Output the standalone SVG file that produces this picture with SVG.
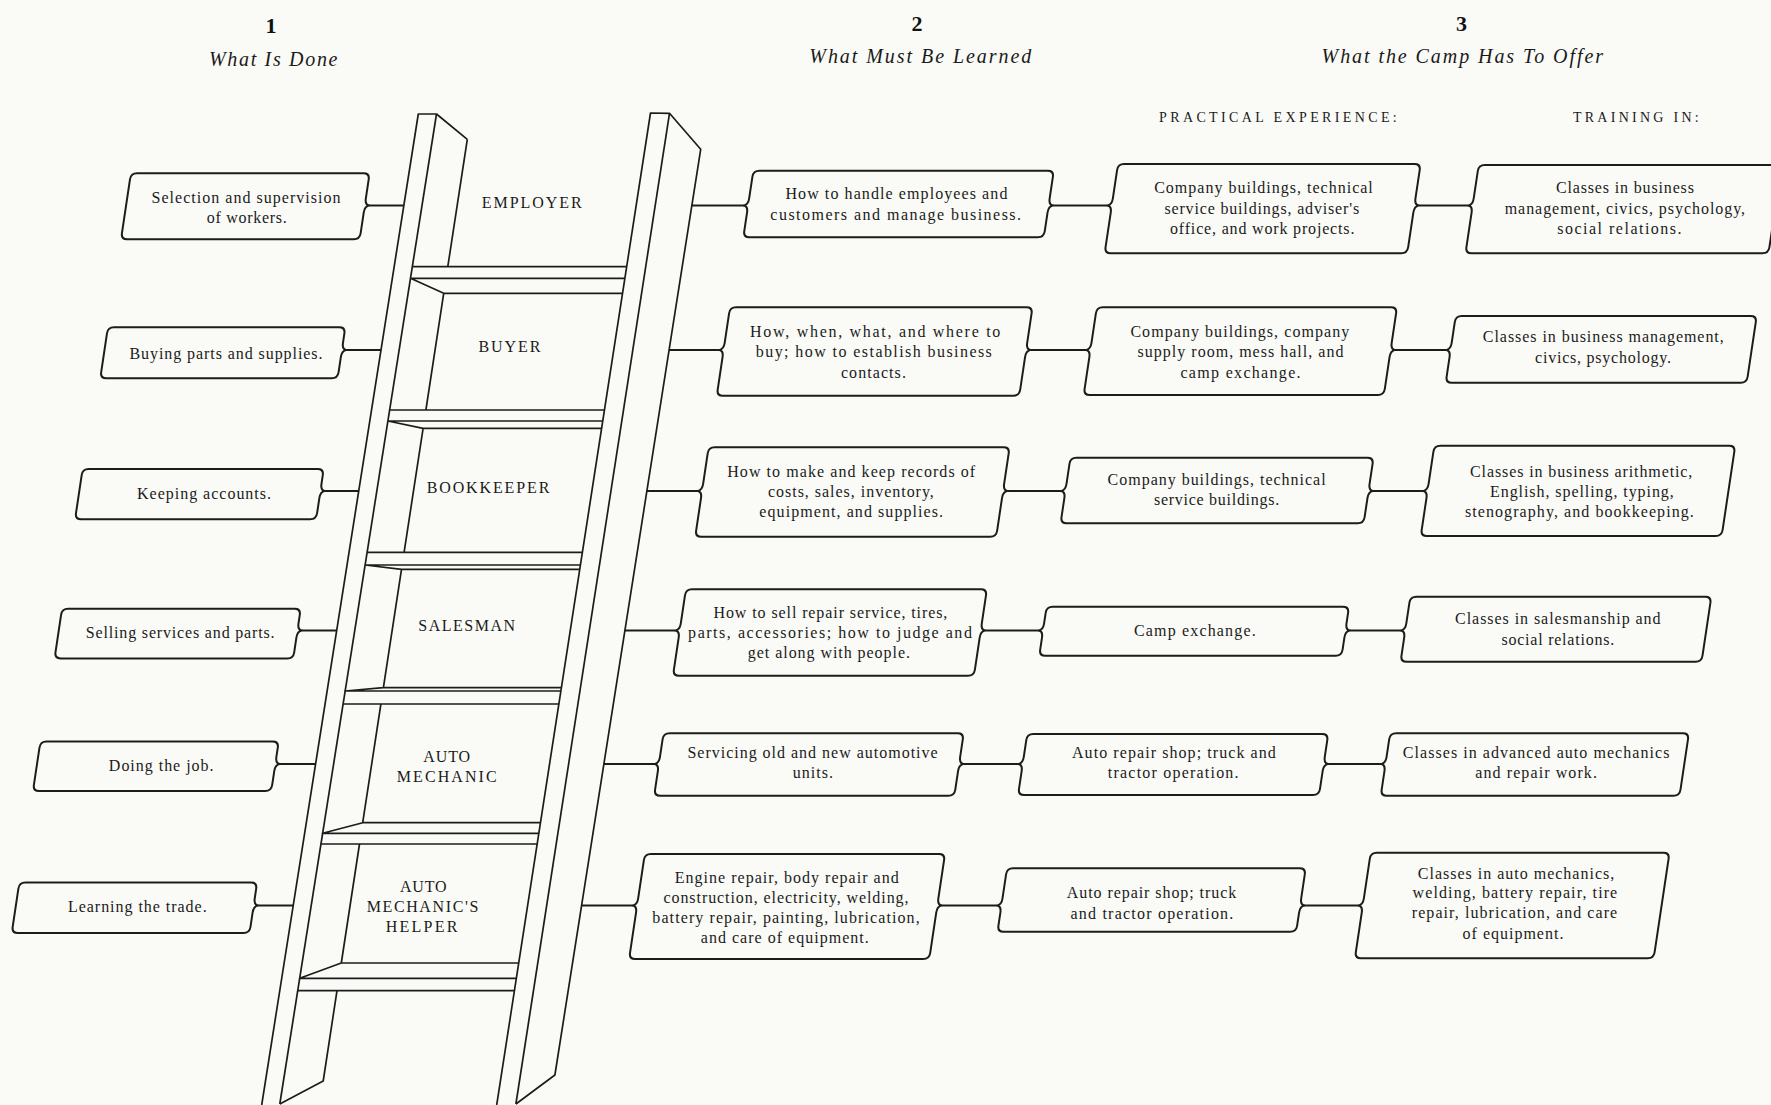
<svg xmlns="http://www.w3.org/2000/svg" width="1771" height="1105" viewBox="0 0 1771 1105">
<style>
.bx{fill:none;stroke:#1c1c1c;stroke-width:2;stroke-linejoin:round}
.ln{fill:none;stroke:#1c1c1c;stroke-width:1.7;stroke-linejoin:round}
.cn{fill:none;stroke:#1c1c1c;stroke-width:2}
.t{font-family:"Liberation Serif",serif;font-size:16px;fill:#1a1a1a;text-anchor:middle}
.lb{font-family:"Liberation Serif",serif;font-size:16px;fill:#1a1a1a;text-anchor:middle}
.num{font-family:"Liberation Serif",serif;font-size:22px;font-weight:bold;fill:#111;text-anchor:middle}
.hi{font-family:"Liberation Serif",serif;font-size:20px;font-style:italic;fill:#1a1a1a;text-anchor:middle}
.sub{font-family:"Liberation Serif",serif;font-size:14px;fill:#1a1a1a;text-anchor:middle}
</style>
<rect width="1771" height="1105" fill="#fafaf7"/>

<g id="headers">
<text class="num" x="271" y="33">1</text>
<text class="hi" x="273.2" y="66" textLength="128.6" lengthAdjust="spacing">What Is Done</text>
<text class="num" x="917" y="31">2</text>
<text class="hi" x="920.3" y="63" textLength="222" lengthAdjust="spacing">What Must Be Learned</text>
<text class="num" x="1461.6" y="31">3</text>
<text class="hi" x="1462.3" y="63" textLength="281.4" lengthAdjust="spacing">What the Camp Has To Offer</text>
<text class="sub" x="1277.9" y="121.5" textLength="237.7" lengthAdjust="spacing">PRACTICAL EXPERIENCE:</text>
<text class="sub" x="1635.8" y="121.5" textLength="125.7" lengthAdjust="spacing">TRAINING IN:</text>
</g>

<g id="ladder">
<g id="rails">
<path class="ln" d="M261.7,1105 L418.3,114 L436.5,114 L467.3,139.3"/>
<path class="ln" d="M436.5,114 L279.8,1104"/>
<path class="ln" d="M467.3,139.3 L447.8,266.7"/>
<path class="ln" d="M337,990.7 L323.2,1081 L279.8,1104"/>
<path class="ln" d="M496.7,1105 L650.5,113 L669.5,113.3 L700.7,149.3 L554.9,1075 L515.9,1104"/>
<path class="ln" d="M669.5,113.3 L515.9,1104"/>
</g>
<g id="rung-employer">
<path class="ln" d="M412.3,266.7 H626.7"/>
<text class="lb" x="531.7" y="207.5" textLength="100" lengthAdjust="spacing">EMPLOYER</text>
</g>
<g id="rung-buyer">
<path class="ln" d="M410.5,278.3 H624.9 M410.5,278.3 L443.7,293.3 H622.6 M443.7,293.3 L425.9,410 M389.6,410 H604.5"/>
<text class="lb" x="509.4" y="351.5" textLength="62" lengthAdjust="spacing">BUYER</text>
</g>
<g id="rung-bookkeeper">
<path class="ln" d="M387.9,421 H602.8 M387.9,421 L423.1,428.3 H601.6 M423.1,428.3 L404.1,552.3 M367.1,552.3 H582.4"/>
<text class="lb" x="488" y="492.5" textLength="122.7" lengthAdjust="spacing">BOOKKEEPER</text>
</g>
<g id="rung-salesman">
<path class="ln" d="M365.1,565 H580.4 M365.1,565 L401.5,569.3 H579.7 M401.5,569.3 L383.4,687.7 H561.4 M383.4,687.7 L345.2,691 H560.9"/>
<text class="lb" x="466.7" y="630.5" textLength="96.7" lengthAdjust="spacing">SALESMAN</text>
</g>
<g id="rung-auto-mechanic">
<path class="ln" d="M343.1,704 H558.9 M380.9,704 L362.7,822.7 H540.5 M362.7,822.7 L322.6,833.3 H538.9"/>
<text class="lb" x="446.7" y="761.5" textLength="46.7" lengthAdjust="spacing">AUTO</text>
<text class="lb" x="446.7" y="781.5" textLength="100" lengthAdjust="spacing">MECHANIC</text>
</g>
<g id="rung-helper">
<path class="ln" d="M320.9,844 H537.2 M359.5,844 L341.3,963 H518.8 M341.3,963 L299.7,978.3 H516.4"/>
<text class="lb" x="423.3" y="891.5" textLength="46.7" lengthAdjust="spacing">AUTO</text>
<text class="lb" x="422.5" y="912" textLength="111.7" lengthAdjust="spacing">MECHANIC'S</text>
<text class="lb" x="421.5" y="932" textLength="71.7" lengthAdjust="spacing">HELPER</text>
</g>
<g id="rung-bottom">
<path class="ln" d="M297.7,990.7 H514.5"/>
</g>
</g>

<g id="connectors">
<path class="cn" d="M368.8,205.5 H403.8 M691.9,205.5 H744.1 M1052.6,205.5 H1107.8 M1418.4,205.5 H1468.6"/>
<path class="cn" d="M345.9,350 H381 M669.1,350 H719.6 M1030.1,350 H1086.4 M1394.6,350 H1446.6"/>
<path class="cn" d="M324.4,491 H358.7 M646.9,491 H698.1 M1007.1,491 H1061.4 M1372.5,491 H1423.5"/>
<path class="cn" d="M301.4,630.5 H336.7 M624.9,630.5 H675.7 M984.7,630.5 H1039 M1349.4,630.5 H1401.2"/>
<path class="cn" d="M279.3,764 H315.6 M603.9,764 H654.9 M963.1,764 H1018.7 M1327.7,764 H1381.5"/>
<path class="cn" d="M257.7,905.5 H293.2 M581.6,905.5 H633.1 M941.3,905.5 H997.4 M1304.1,905.5 H1358.8"/>
</g>

<g id="n-r1c1">
<path class="bx" transform="translate(130.9,173.3) skewX(-8.5)" d="M6,0 H232.7 Q238.7,0 238.7,6 V25.2 Q238.7,31.2 242.7,32.2 Q238.7,33.2 238.7,39.2 V60 Q238.7,66 232.7,66 H6 Q0,66 0,60 V6 Q0,0 6,0 Z"/>
<text class="t" x="246" y="203" textLength="189" lengthAdjust="spacing">Selection and supervision</text>
<text class="t" x="246.7" y="223" textLength="80" lengthAdjust="spacing">of workers.</text>
</g>
<g id="n-r2c1">
<path class="bx" transform="translate(107.9,327.3) skewX(-8.5)" d="M6,0 H231.4 Q237.4,0 237.4,6 V15.7 Q237.4,21.7 241.4,22.7 Q237.4,23.7 237.4,29.7 V45 Q237.4,51 231.4,51 H6 Q0,51 0,45 V6 Q0,0 6,0 Z"/>
<text class="t" x="226" y="359" textLength="193" lengthAdjust="spacing">Buying parts and supplies.</text>
</g>
<g id="n-r3c1">
<path class="bx" transform="translate(82.6,469) skewX(-8.5)" d="M6,0 H235.1 Q241.1,0 241.1,6 V15 Q241.1,21 245.1,22 Q241.1,23 241.1,29 V44.3 Q241.1,50.3 235.1,50.3 H6 Q0,50.3 0,44.3 V6 Q0,0 6,0 Z"/>
<text class="t" x="204" y="499" textLength="134" lengthAdjust="spacing">Keeping accounts.</text>
</g>
<g id="n-r4c1">
<path class="bx" transform="translate(62,608.7) skewX(-8.5)" d="M6,0 H232.7 Q238.7,0 238.7,6 V14.8 Q238.7,20.8 242.7,21.8 Q238.7,22.8 238.7,28.8 V43.7 Q238.7,49.7 232.7,49.7 H6 Q0,49.7 0,43.7 V6 Q0,0 6,0 Z"/>
<text class="t" x="180.2" y="637.5" textLength="188.7" lengthAdjust="spacing">Selling services and parts.</text>
</g>
<g id="n-r5c1">
<path class="bx" transform="translate(40.4,741.4) skewX(-8.5)" d="M6,0 H232.3 Q238.3,0 238.3,6 V15.6 Q238.3,21.6 242.3,22.6 Q238.3,23.6 238.3,29.6 V43.7 Q238.3,49.7 232.3,49.7 H6 Q0,49.7 0,43.7 V6 Q0,0 6,0 Z"/>
<text class="t" x="161.2" y="771" textLength="104.7" lengthAdjust="spacing">Doing the job.</text>
</g>
<g id="n-r6c1">
<path class="bx" transform="translate(19.3,882.6) skewX(-8.5)" d="M6,0 H231.8 Q237.8,0 237.8,6 V15.9 Q237.8,21.9 241.8,22.9 Q237.8,23.9 237.8,29.9 V44.4 Q237.8,50.4 231.8,50.4 H6 Q0,50.4 0,44.4 V6 Q0,0 6,0 Z"/>
<text class="t" x="137.3" y="912" textLength="138.7" lengthAdjust="spacing">Learning the trade.</text>
</g>

<g id="n-r1c2">
<path class="bx" transform="translate(753.3,170.7) skewX(-8.5)" d="M6,0 H294.5 Q300.5,0 300.5,6 V27.8 Q300.5,33.8 304.5,34.8 Q300.5,35.8 300.5,41.8 V60.6 Q300.5,66.6 294.5,66.6 H6 Q0,66.6 0,60.6 V41.8 Q0,35.8 -4,34.8 Q0,33.8 0,27.8 V6 Q0,0 6,0 Z"/>
<text class="t" x="896.4" y="198.5" textLength="222" lengthAdjust="spacing">How to handle employees and</text>
<text class="t" x="895.7" y="220" textLength="250.7" lengthAdjust="spacing">customers and manage business.</text>
</g>
<g id="n-r2c2">
<path class="bx" transform="translate(730,307.3) skewX(-8.5)" d="M6,0 H296.5 Q302.5,0 302.5,6 V35.7 Q302.5,41.7 306.5,42.7 Q302.5,43.7 302.5,49.7 V82.4 Q302.5,88.4 296.5,88.4 H6 Q0,88.4 0,82.4 V49.7 Q0,43.7 -4,42.7 Q0,41.7 0,35.7 V6 Q0,0 6,0 Z"/>
<text class="t" x="875.2" y="336.5" textLength="250.2" lengthAdjust="spacing">How, when, what, and where to</text>
<text class="t" x="873.8" y="357" textLength="236" lengthAdjust="spacing">buy; how to establish business</text>
<text class="t" x="873.4" y="377.5" textLength="65" lengthAdjust="spacing">contacts.</text>
</g>
<g id="n-r3c2">
<path class="bx" transform="translate(708.6,447.3) skewX(-8.5)" d="M6,0 H295 Q301,0 301,6 V36.7 Q301,42.7 305,43.7 Q301,44.7 301,50.7 V83.4 Q301,89.4 295,89.4 H6 Q0,89.4 0,83.4 V50.7 Q0,44.7 -4,43.7 Q0,42.7 0,36.7 V6 Q0,0 6,0 Z"/>
<text class="t" x="851.2" y="477" textLength="248" lengthAdjust="spacing">How to make and keep records of</text>
<text class="t" x="850.9" y="497" textLength="165.9" lengthAdjust="spacing">costs, sales, inventory,</text>
<text class="t" x="851.2" y="517" textLength="183.7" lengthAdjust="spacing">equipment, and supplies.</text>
</g>
<g id="n-r4c2">
<path class="bx" transform="translate(685.9,589.3) skewX(-8.5)" d="M6,0 H295 Q301,0 301,6 V34.2 Q301,40.2 305,41.2 Q301,42.2 301,48.2 V80.4 Q301,86.4 295,86.4 H6 Q0,86.4 0,80.4 V48.2 Q0,42.2 -4,41.2 Q0,40.2 0,34.2 V6 Q0,0 6,0 Z"/>
<text class="t" x="830.4" y="617.5" textLength="233.8" lengthAdjust="spacing">How to sell repair service, tires,</text>
<text class="t" x="830" y="637.5" textLength="283.8" lengthAdjust="spacing">parts, accessories; how to judge and</text>
<text class="t" x="828.9" y="658" textLength="162.1" lengthAdjust="spacing">get along with people.</text>
</g>
<g id="n-r5c2">
<path class="bx" transform="translate(663.5,733.3) skewX(-8.5)" d="M6,0 H294.2 Q300.2,0 300.2,6 V23.7 Q300.2,29.7 304.2,30.7 Q300.2,31.7 300.2,37.7 V56.4 Q300.2,62.4 294.2,62.4 H6 Q0,62.4 0,56.4 V37.7 Q0,31.7 -4,30.7 Q0,29.7 0,23.7 V6 Q0,0 6,0 Z"/>
<text class="t" x="812.5" y="758" textLength="250.2" lengthAdjust="spacing">Servicing old and new automotive</text>
<text class="t" x="812.8" y="778" textLength="40.3" lengthAdjust="spacing">units.</text>
</g>
<g id="n-r6c2">
<path class="bx" transform="translate(644.8,854) skewX(-8.5)" d="M6,0 H294.2 Q300.2,0 300.2,6 V44.5 Q300.2,50.5 304.2,51.5 Q300.2,52.5 300.2,58.5 V99 Q300.2,105 294.2,105 H6 Q0,105 0,99 V58.5 Q0,52.5 -4,51.5 Q0,50.5 0,44.5 V6 Q0,0 6,0 Z"/>
<text class="t" x="786.7" y="883" textLength="224" lengthAdjust="spacing">Engine repair, body repair and</text>
<text class="t" x="786" y="903" textLength="245" lengthAdjust="spacing">construction, electricity, welding,</text>
<text class="t" x="786" y="923" textLength="267.4" lengthAdjust="spacing">battery repair, painting, lubrication,</text>
<text class="t" x="784.8" y="943" textLength="168" lengthAdjust="spacing">and care of equipment.</text>
</g>

<g id="n-r1c3">
<path class="bx" transform="translate(1118,164) skewX(-8.5)" d="M6,0 H296.6 Q302.6,0 302.6,6 V34.5 Q302.6,40.5 306.6,41.5 Q302.6,42.5 302.6,48.5 V83.3 Q302.6,89.3 296.6,89.3 H6 Q0,89.3 0,83.3 V48.5 Q0,42.5 -4,41.5 Q0,40.5 0,34.5 V6 Q0,0 6,0 Z"/>
<text class="t" x="1263.5" y="192.5" textLength="218.6" lengthAdjust="spacing">Company buildings, technical</text>
<text class="t" x="1261.8" y="213.5" textLength="194.7" lengthAdjust="spacing">service buildings, adviser's</text>
<text class="t" x="1262.2" y="233.5" textLength="184.4" lengthAdjust="spacing">office, and work projects.</text>
</g>
<g id="n-r2c3">
<path class="bx" transform="translate(1096.8,307.3) skewX(-8.5)" d="M6,0 H294.2 Q300.2,0 300.2,6 V35.7 Q300.2,41.7 304.2,42.7 Q300.2,43.7 300.2,49.7 V81.7 Q300.2,87.7 294.2,87.7 H6 Q0,87.7 0,81.7 V49.7 Q0,43.7 -4,42.7 Q0,41.7 0,35.7 V6 Q0,0 6,0 Z"/>
<text class="t" x="1239.8" y="336.5" textLength="218.8" lengthAdjust="spacing">Company buildings, company</text>
<text class="t" x="1240.5" y="357" textLength="205.9" lengthAdjust="spacing">supply room, mess hall, and</text>
<text class="t" x="1240.5" y="377.5" textLength="120.1" lengthAdjust="spacing">camp exchange.</text>
</g>
<g id="n-r3c3">
<path class="bx" transform="translate(1070.4,457.7) skewX(-8.5)" d="M6,0 H297.1 Q303.1,0 303.1,6 V26.3 Q303.1,32.3 307.1,33.3 Q303.1,34.3 303.1,40.3 V59.6 Q303.1,65.6 297.1,65.6 H6 Q0,65.6 0,59.6 V40.3 Q0,34.3 -4,33.3 Q0,32.3 0,26.3 V6 Q0,0 6,0 Z"/>
<text class="t" x="1216.6" y="485" textLength="218" lengthAdjust="spacing">Company buildings, technical</text>
<text class="t" x="1216.6" y="505" textLength="125.1" lengthAdjust="spacing">service buildings.</text>
</g>
<g id="n-r4c3">
<path class="bx" transform="translate(1046.6,606.7) skewX(-8.5)" d="M6,0 H296.4 Q302.4,0 302.4,6 V16.8 Q302.4,22.8 306.4,23.8 Q302.4,24.8 302.4,30.8 V43 Q302.4,49 296.4,49 H6 Q0,49 0,43 V30.8 Q0,24.8 -4,23.8 Q0,22.8 0,16.8 V6 Q0,0 6,0 Z"/>
<text class="t" x="1194.8" y="636" textLength="121.7" lengthAdjust="spacing">Camp exchange.</text>
</g>
<g id="n-r5c3">
<path class="bx" transform="translate(1027.2,734) skewX(-8.5)" d="M6,0 H295 Q301,0 301,6 V23 Q301,29 305,30 Q301,31 301,37 V55 Q301,61 295,61 H6 Q0,61 0,55 V37 Q0,31 -4,30 Q0,29 0,23 V6 Q0,0 6,0 Z"/>
<text class="t" x="1173.9" y="758" textLength="203.9" lengthAdjust="spacing">Auto repair shop; truck and</text>
<text class="t" x="1173.2" y="778" textLength="130.7" lengthAdjust="spacing">tractor operation.</text>
</g>
<g id="n-r6c3">
<path class="bx" transform="translate(1007,868.3) skewX(-8.5)" d="M6,0 H292.7 Q298.7,0 298.7,6 V30.2 Q298.7,36.2 302.7,37.2 Q298.7,38.2 298.7,44.2 V57.4 Q298.7,63.4 292.7,63.4 H6 Q0,63.4 0,57.4 V44.2 Q0,38.2 -4,37.2 Q0,36.2 0,30.2 V6 Q0,0 6,0 Z"/>
<text class="t" x="1151.5" y="898" textLength="169.5" lengthAdjust="spacing">Auto repair shop; truck</text>
<text class="t" x="1151.9" y="919" textLength="162.8" lengthAdjust="spacing">and tractor operation.</text>
</g>

<g id="n-r1c4">
<path class="bx" transform="translate(1478.7,165) skewX(-8.5)" d="M6,0 H297 Q303,0 303,6 V82.3 Q303,88.3 297,88.3 H6 Q0,88.3 0,82.3 V47.5 Q0,41.5 -4,40.5 Q0,39.5 0,33.5 V6 Q0,0 6,0 Z"/>
<text class="t" x="1624.9" y="192.5" textLength="138" lengthAdjust="spacing">Classes in business</text>
<text class="t" x="1624.9" y="213.5" textLength="240.4" lengthAdjust="spacing">management, civics, psychology,</text>
<text class="t" x="1619.4" y="233.5" textLength="124.3" lengthAdjust="spacing">social relations.</text>
</g>
<g id="n-r2c4">
<path class="bx" transform="translate(1455.7,316) skewX(-8.5)" d="M6,0 H295 Q301,0 301,6 V60.7 Q301,66.7 295,66.7 H6 Q0,66.7 0,60.7 V41 Q0,35 -4,34 Q0,33 0,27 V6 Q0,0 6,0 Z"/>
<text class="t" x="1603.3" y="342" textLength="240.9" lengthAdjust="spacing">Classes in business management,</text>
<text class="t" x="1603" y="363" textLength="135.8" lengthAdjust="spacing">civics, psychology.</text>
</g>
<g id="n-r3c4">
<path class="bx" transform="translate(1434.3,445.7) skewX(-8.5)" d="M6,0 H294.9 Q300.9,0 300.9,6 V84.3 Q300.9,90.3 294.9,90.3 H6 Q0,90.3 0,84.3 V52.3 Q0,46.3 -4,45.3 Q0,44.3 0,38.3 V6 Q0,0 6,0 Z"/>
<text class="t" x="1581.2" y="476.5" textLength="222.3" lengthAdjust="spacing">Classes in business arithmetic,</text>
<text class="t" x="1581.9" y="496.5" textLength="183.7" lengthAdjust="spacing">English, spelling, typing,</text>
<text class="t" x="1579.4" y="516.5" textLength="228.8" lengthAdjust="spacing">stenography, and bookkeeping.</text>
</g>
<g id="n-r4c4">
<path class="bx" transform="translate(1410.3,596.7) skewX(-8.5)" d="M6,0 H295 Q301,0 301,6 V59 Q301,65 295,65 H6 Q0,65 0,59 V40.8 Q0,34.8 -4,33.8 Q0,32.8 0,26.8 V6 Q0,0 6,0 Z"/>
<text class="t" x="1557.8" y="624" textLength="205.4" lengthAdjust="spacing">Classes in salesmanship and</text>
<text class="t" x="1557.8" y="645" textLength="112.8" lengthAdjust="spacing">social relations.</text>
</g>
<g id="n-r5c4">
<path class="bx" transform="translate(1390.1,733.3) skewX(-8.5)" d="M6,0 H292.8 Q298.8,0 298.8,6 V56.4 Q298.8,62.4 292.8,62.4 H6 Q0,62.4 0,56.4 V37.7 Q0,31.7 -4,30.7 Q0,29.7 0,23.7 V6 Q0,0 6,0 Z"/>
<text class="t" x="1536.1" y="758" textLength="266.6" lengthAdjust="spacing">Classes in advanced auto mechanics</text>
<text class="t" x="1536.1" y="777.5" textLength="121.7" lengthAdjust="spacing">and repair work.</text>
</g>
<g id="n-r6c4">
<path class="bx" transform="translate(1370.7,852.7) skewX(-8.5)" d="M6,0 H292.8 Q298.8,0 298.8,6 V99.6 Q298.8,105.6 292.8,105.6 H6 Q0,105.6 0,99.6 V59.8 Q0,53.8 -4,52.8 Q0,51.8 0,45.8 V6 Q0,0 6,0 Z"/>
<text class="t" x="1516" y="879" textLength="196.4" lengthAdjust="spacing">Classes in auto mechanics,</text>
<text class="t" x="1514.9" y="898" textLength="204.6" lengthAdjust="spacing">welding, battery repair, tire</text>
<text class="t" x="1514.5" y="918" textLength="205.4" lengthAdjust="spacing">repair, lubrication, and care</text>
<text class="t" x="1513" y="939" textLength="100.8" lengthAdjust="spacing">of equipment.</text>
</g>
</svg>
